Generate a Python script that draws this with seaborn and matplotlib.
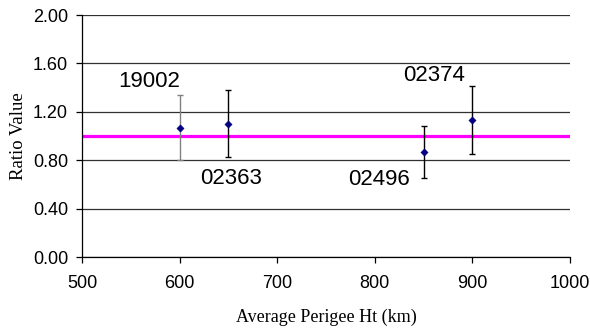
import matplotlib
matplotlib.use("Agg")
import matplotlib.pyplot as plt
import seaborn as sns
import pandas as pd

heights = [600, 650, 850, 900]
ratios = [1.07, 1.10, 0.865, 1.13]
err_hi = [1.34, 1.38, 1.08, 1.415]
err_lo = [0.80, 0.825, 0.65, 0.85]
names = ["19002", "02363", "02496", "02374"]
label_x = [569, 653, 804, 861]
label_y = [1.45, 0.645, 0.64, 1.50]
err_colors = ["#808080", "black", "black", "black"]
xticks = [500, 600, 700, 800, 900, 1000]
yticks = [0.0, 0.4, 0.8, 1.2, 1.6, 2.0]

df = pd.DataFrame({"h": heights, "r": ratios})

sns.set_style("white", {"text.color": "black", "axes.labelcolor": "black",
                        "xtick.color": "black", "ytick.color": "black"})
fig = plt.figure(figsize=(5.9, 3.33), dpi=100)
ax = fig.add_axes([82/590, 1-257/333, (570-82)/590, (257-15)/333])

for yv in yticks:
    ax.axhline(yv, color="#303030", lw=0.9, zorder=0)
ax.axhline(1.0, color="#ff00ff", lw=2.3, zorder=1)

for x, y, lo, hi, c in zip(heights, ratios, err_lo, err_hi, err_colors):
    ax.errorbar([x], [y], yerr=[[y - lo], [hi - y]], fmt="none", ecolor=c,
                elinewidth=1, capsize=2.5, capthick=1, zorder=2)

sns.scatterplot(data=df, x="h", y="r", ax=ax, marker="D", s=14,
                color="#000080", edgecolor="#000080", zorder=3, legend=False)

for n, lx, ly in zip(names, label_x, label_y):
    ax.text(lx, ly, n, ha="center", va="center", fontsize=16,
            family="Liberation Sans", color="black")

ax.set_xlim(500, 1000)
ax.set_ylim(0, 2.0)
ax.set_xticks(xticks)
ax.set_yticks(yticks)
ax.set_xticklabels([str(v) for v in xticks], family="Liberation Sans", fontsize=13)
ax.set_yticklabels([f"{v:.2f}" for v in yticks], family="Liberation Sans", fontsize=13)
ax.tick_params(axis="both", direction="out", length=4, width=0.9, color="black",
               labelcolor="black", left=True, bottom=True)
ax.tick_params(axis="y", pad=6)
ax.tick_params(axis="x", pad=9)
for s in ["top", "right"]:
    ax.spines[s].set_visible(False)
for s in ["left", "bottom"]:
    ax.spines[s].set_color("black")
    ax.spines[s].set_linewidth(0.9)

ax.set_xlabel("Average Perigee Ht (km)", family="Liberation Serif", fontsize=13,
              labelpad=12, color="black")
ax.set_ylabel("Ratio Value", family="Liberation Serif", fontsize=13.5,
              labelpad=4, color="black")

fig.savefig("out.png", dpi=100, facecolor="white")
